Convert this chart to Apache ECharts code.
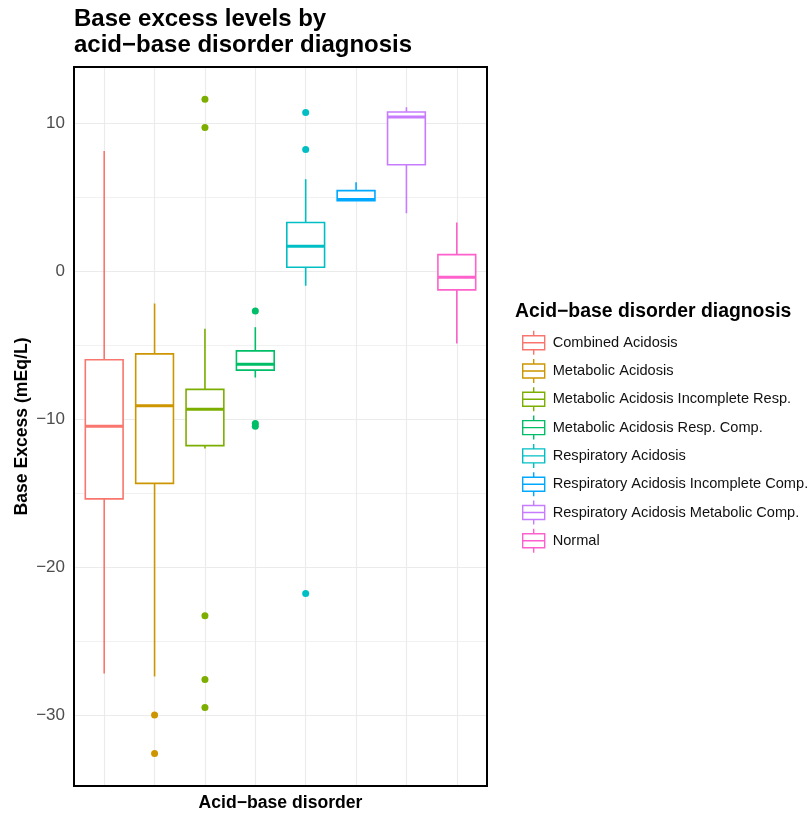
<!DOCTYPE html>
<html>
<head>
<meta charset="utf-8">
<script src="https://cdn.jsdelivr.net/npm/echarts@6/dist/echarts.min.js"></script>
<style>
html,body{margin:0;padding:0;background:#fff;}
#chart{width:811px;height:814px;}
</style>
</head>
<body>
<div id="chart"></div>
<script>
const categories = ['Combined Acidosis', 'Metabolic Acidosis', 'Metabolic Acidosis Incomplete Resp.', 'Metabolic Acidosis Resp. Comp.', 'Respiratory Acidosis', 'Respiratory Acidosis Incomplete Comp.', 'Respiratory Acidosis Metabolic Comp.', 'Normal'];
const colors = ['#F8766D', '#CD9600', '#7CAE00', '#00BE67', '#00BFC4', '#00A9FF', '#C77CFF', '#FF61CC'];
const whiskerLow  = [-27.2, -27.4, -12.0, -7.2, -1.0, 4.75, 3.9, -4.9];
const q1          = [-15.4, -14.35, -11.8, -6.7, 0.25, 4.75, 7.18, -1.28];
const median      = [-10.5, -9.1, -9.35, -6.3, 1.67, 4.83, 10.4, -0.43];
const q3          = [-6.0, -5.6, -8.0, -5.4, 3.27, 5.43, 10.74, 1.1];
const whiskerHigh = [8.1, -2.2, -3.9, -3.8, 6.2, 6.0, 11.06, 3.27];
const outliers = [
  [],
  [-30.0, -32.6],
  [11.6, 9.7, -23.3, -27.6, -29.5],
  [-2.7, -10.3, -10.5],
  [10.7, 8.2, -21.8],
  [],
  [],
  []
];
const yMin = -34.8, yMax = 13.78;

const FONT = '"Liberation Sans", Arial, Helvetica, sans-serif';
const MINUS = '\u2212';

function fmt(v) {
  if (Math.abs(v % 10) > 1e-6) return '';
  return v < 0 ? MINUS + Math.abs(v) : String(v);
}

function renderBox(params, api) {
  const idx = api.value(0);
  const col = colors[idx];
  const pMin = api.coord([idx, api.value(1)]);
  const pQ1 = api.coord([idx, api.value(2)]);
  const pMed = api.coord([idx, api.value(3)]);
  const pQ3 = api.coord([idx, api.value(4)]);
  const pMax = api.coord([idx, api.value(5)]);
  const bw = api.size([1, 0])[0] * 0.75;
  const cx = pMed[0];
  const lw = 1.6;
  return {
    type: 'group',
    children: [
      { type: 'line', shape: { x1: cx, y1: pMax[1], x2: cx, y2: pQ3[1] }, style: { stroke: col, lineWidth: lw } },
      { type: 'line', shape: { x1: cx, y1: pQ1[1], x2: cx, y2: pMin[1] }, style: { stroke: col, lineWidth: lw } },
      { type: 'rect', shape: { x: cx - bw / 2, y: pQ3[1], width: bw, height: pQ1[1] - pQ3[1] }, style: { fill: '#fff', stroke: col, lineWidth: lw } },
      { type: 'line', shape: { x1: cx - bw / 2, y1: pMed[1], x2: cx + bw / 2, y2: pMed[1] }, style: { stroke: col, lineWidth: 3 } }
    ]
  };
}

const series = [];
categories.forEach(function (name, i) {
  series.push({
    type: 'custom',
    name: name,
    xAxisIndex: 1,
    yAxisIndex: 2,
    renderItem: renderBox,
    encode: { x: 0, y: [1, 2, 3, 4, 5] },
    data: [[i, whiskerLow[i], q1[i], median[i], q3[i], whiskerHigh[i]]],
    z: 3,
    silent: true
  });
});
categories.forEach(function (name, i) {
  if (!outliers[i].length) return;
  series.push({
    type: 'scatter',
    name: name,
    xAxisIndex: 1,
    yAxisIndex: 2,
    symbol: 'circle',
    symbolSize: 7,
    itemStyle: { color: colors[i], opacity: 1 },
    data: outliers[i].map(function (v) { return [i, v]; }),
    z: 4,
    silent: true
  });
});

const iconPath = 'path://M11,0L11,5M0,5L22,5L22,19L0,19ZM0,12L22,12M11,19L11,24';

const option = {
  animation: false,
  backgroundColor: '#fff',
  textStyle: { fontFamily: FONT },
  title: [
    {
      text: 'Base excess levels by\nacid' + MINUS + 'base disorder diagnosis',
      left: 69,
      top: 1,
      textStyle: { fontFamily: FONT, fontSize: 24, fontWeight: 'bold', color: '#000', lineHeight: 26 }
    },
    {
      text: 'Acid' + MINUS + 'base disorder diagnosis',
      left: 510,
      top: 297,
      textStyle: { fontFamily: FONT, fontSize: 19.4, fontWeight: 'bold', color: '#000' }
    }
  ],
  legend: {
    orient: 'vertical',
    left: 517,
    top: 325,
    itemWidth: 22,
    itemHeight: 24,
    itemGap: 2.9,
    icon: iconPath,
    selectedMode: false,
    textStyle: { fontFamily: FONT, fontSize: 14.6, color: '#111', padding: [0, 0, 0, 3] },
    data: categories.map(function (n, i) {
      return { name: n, icon: iconPath, itemStyle: { color: 'rgba(0,0,0,0)', borderColor: colors[i], borderWidth: 1.4 } };
    })
  },
  grid: [
    { left: 74, top: 67, width: 413, height: 719, show: true, borderColor: '#000', borderWidth: 2, backgroundColor: 'transparent', containLabel: false, outerBoundsMode: 'none', z: 10 },
    { left: 104.2, top: 67, width: 352.6, height: 719, show: false, containLabel: false, outerBoundsMode: 'none' }
  ],
  xAxis: [
    {
      type: 'value', gridIndex: 0, min: 0, max: 1,
      axisLine: { show: false }, axisTick: { show: false }, axisLabel: { show: false }, splitLine: { show: false },
      name: 'Acid' + MINUS + 'base disorder', nameLocation: 'middle', nameGap: 8, nameMoveOverlap: false,
      nameTextStyle: { fontFamily: FONT, fontSize: 17.6, fontWeight: 'bold', color: '#000', verticalAlign: 'top' }
    },
    {
      type: 'category', gridIndex: 1, data: categories, boundaryGap: false,
      axisLine: { show: false }, axisTick: { show: false, interval: 0 }, axisLabel: { show: false, interval: 0 },
      splitLine: { show: true, interval: 0, lineStyle: { color: '#ebebeb', width: 1.1 } }
    }
  ],
  yAxis: [
    {
      type: 'value', gridIndex: 0, min: yMin, max: yMax, minInterval: 10, maxInterval: 10,
      axisLine: { show: false }, axisTick: { show: false },
      axisLabel: { show: true, formatter: fmt, fontFamily: FONT, fontSize: 17, color: '#4d4d4d', margin: 9, showMinLabel: false, showMaxLabel: false },
      splitLine: { show: true, lineStyle: { color: '#ebebeb', width: 1.1 } },
      name: 'Base Excess (mEq/L)', nameLocation: 'middle', nameRotate: 90, nameGap: 43, nameMoveOverlap: false,
      nameTextStyle: { fontFamily: FONT, fontSize: 17.6, fontWeight: 'bold', color: '#000' }
    },
    {
      type: 'value', gridIndex: 0, min: yMin, max: yMax, minInterval: 5, maxInterval: 5, position: 'left',
      axisLine: { show: false }, axisTick: { show: false }, axisLabel: { show: false },
      splitLine: { show: true, lineStyle: { color: '#ebebeb', width: 0.7 } }
    },
    {
      type: 'value', gridIndex: 1, min: yMin, max: yMax,
      axisLine: { show: false }, axisTick: { show: false }, axisLabel: { show: false }, splitLine: { show: false }
    }
  ],
  series: series
};

const chart = echarts.init(document.getElementById('chart'), null, { renderer: 'canvas' });
chart.setOption(option);
</script>
</body>
</html>
